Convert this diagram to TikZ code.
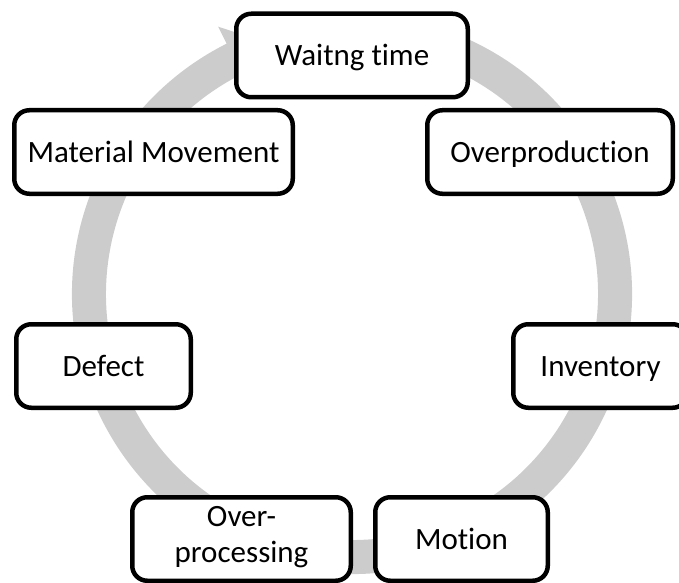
\documentclass[tikz,border=0pt]{standalone}
\usepackage{fontspec}
\setmainfont{Carlito}[Ligatures=NoCommon]
\definecolor{ringgray}{RGB}{204,204,204}
\begin{document}
\begin{tikzpicture}[x=1pt,y=1pt,
  wastebox/.style={draw=black, line width=4.5pt, fill=white,
    rounded corners=15pt, minimum height=83.5pt, inner sep=0pt,
    font=\fontsize{31}{36}\selectfont},
  oneline/.style={text height=20pt, text depth=0pt},
  twoline/.style={align=center, inner sep=0pt,
    font=\fontsize{31}{36}\selectfont}]
\useasboundingbox (0,0) rectangle (679,582);

% circular gray arrow running clockwise behind the boxes
\begin{scope}[shift={(352,288)}]
  \coordinate (ringcentre) at (0,0);
  \fill[ringgray]
    (70:280) arc[start angle=70, end angle=-243.4, radius=280]
    -- (-243.4:299) -- (-252:263) -- (-243.4:227) -- (-243.4:246)
    arc[start angle=-243.4, end angle=70, radius=246] -- cycle;
\end{scope}

% the seven boxes
\node[wastebox, oneline, minimum width=231.5pt] (wait) at (352,526.5) {Waitng time};
\node[wastebox, oneline, minimum width=245.5pt] (overprod) at (550,430) {Overproduction};
\node[wastebox, oneline, minimum width=278.5pt] (matmove) at (153.5,430) {Material Movement};
\node[wastebox, oneline, minimum width=174.5pt] (defect) at (103.5,216) {Defect};
\node[wastebox, oneline, minimum width=174.5pt] (invent) at (600.5,216) {Inventory};
\node[wastebox, minimum width=218.5pt] (overproc) at (241.5,43) {};
\node[twoline] (overproctext) at (241.5,45) {Over-\\processing};
\node[wastebox, oneline, minimum width=172.5pt] (motion) at (461.5,43) {Motion};
\end{tikzpicture}
\end{document}
